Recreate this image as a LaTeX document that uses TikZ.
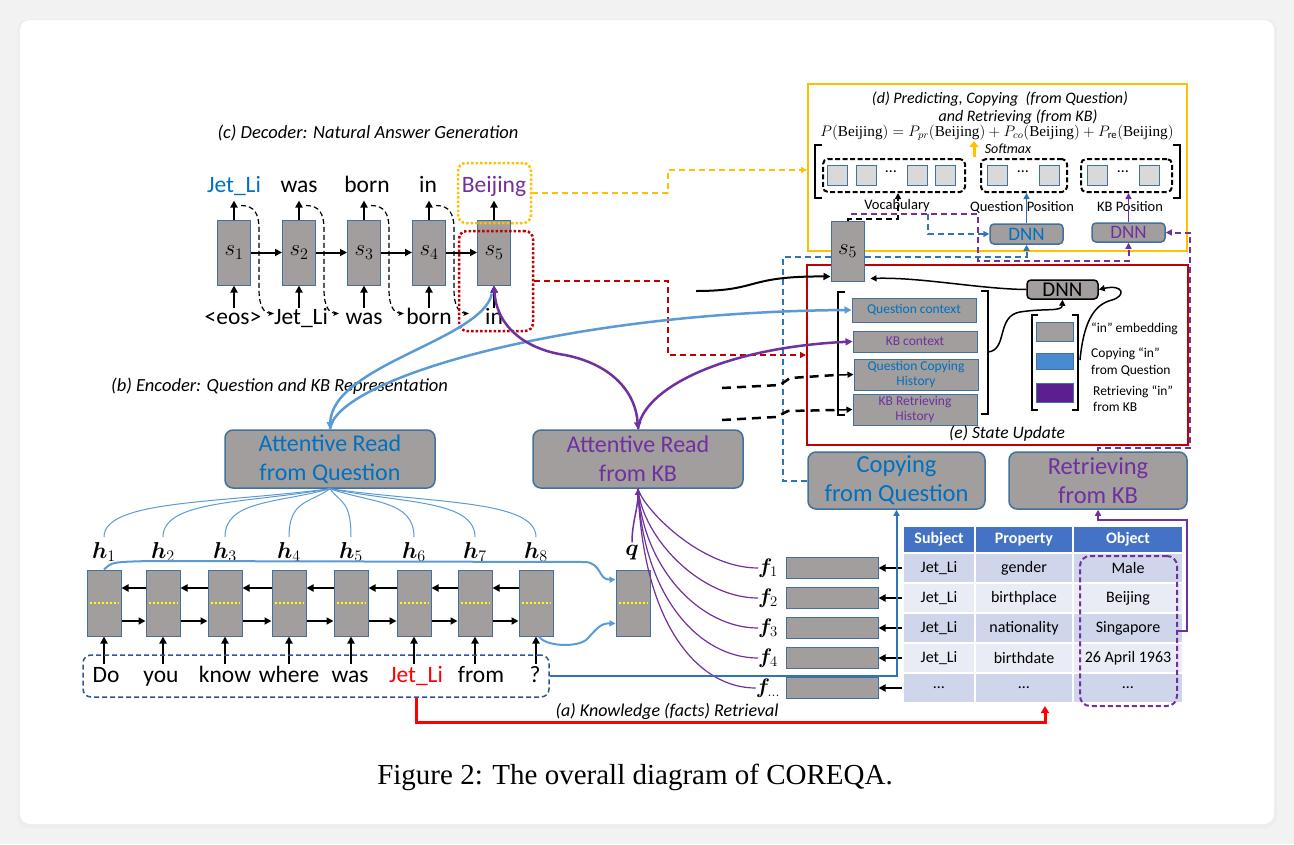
\RequirePackage{fix-cm}
\documentclass[tikz,border=0pt]{standalone}
\usepackage{amsmath}
\usepackage{bm}
\usepackage{fontspec}
\setmainfont{Carlito}
\newfontfamily\serifcap{Liberation Serif}
\usetikzlibrary{arrows.meta,calc}
\definecolor{bgout}{HTML}{F2F2F2}
\definecolor{cellgray}{HTML}{A29E9D}
\definecolor{cellborder}{HTML}{41719C}
\definecolor{qblue}{HTML}{0070C0}
\definecolor{lblue}{HTML}{5B9BD5}
\definecolor{kpurple}{HTML}{7030A0}
\definecolor{dorange}{HTML}{FFC000}
\definecolor{dred}{HTML}{C00000}
\definecolor{thead}{HTML}{4472C4}
\definecolor{tdark}{HTML}{CFD5EA}
\definecolor{tlight}{HTML}{E9EBF5}
\definecolor{sqgray}{HTML}{D9D9D9}
\definecolor{qbox}{HTML}{2F5597}
\definecolor{embblue}{HTML}{4A8BD0}
\definecolor{embpurple}{HTML}{5B1F8F}
\definecolor{dashblue}{HTML}{2E75B6}
\definecolor{dotyellow}{HTML}{FFFF00}
\newcommand{\fsz}[2]{\fontsize{#1}{#2}\selectfont}
\newcommand{\bj}{\text{\serifcap Beijing}}
\tikzset{
  cell/.style={draw=cellborder, fill=cellgray, line width=1pt, inner sep=0pt, minimum width=33pt, minimum height=65pt},
  gbox/.style={draw=cellborder, fill=cellgray, line width=1.5pt, rounded corners=8pt, inner sep=0pt, align=center},
  ebx/.style={draw=cellborder, fill=cellgray, line width=1pt, inner sep=0pt, minimum width=124pt, align=center, font=\fsz{13.5}{15}},
  ar/.style={line width=2pt, -{Triangle[length=7pt,width=7pt]}},
  thinar/.style={line width=1.5pt, -{Triangle[length=6pt,width=6pt]}},
  wd/.style={font=\fsz{23.5}{28}, inner sep=0pt, anchor=base},
  ttl/.style={font=\fsz{18.5}{22}\itshape, inner sep=0pt},
  sq/.style={draw=cellborder, fill=sqgray, line width=1pt, minimum width=20pt, minimum height=20pt, inner sep=0pt},
  dashbox/.style={draw=black, line width=2pt, dash pattern=on 5pt off 2.5pt, rounded corners=5pt, inner sep=0pt},
  bdash/.style={dashblue, line width=2pt, dash pattern=on 6pt off 4pt},
  pdash/.style={kpurple, line width=2pt, dash pattern=on 6pt off 4pt},
  ydash/.style={dorange, line width=2pt, dash pattern=on 6pt off 4pt},
  rdash/.style={dred, line width=2pt, dash pattern=on 6pt off 4pt},
  kdash/.style={black, line width=2.5pt, dash pattern=on 9pt off 6pt},
  tip/.style={-{Triangle[length=6pt,width=6pt]}},
  tc/.style={draw=white, line width=1.5pt, inner sep=0pt, minimum height=30pt, font=\fsz{16}{18}},
  brk/.style={line width=2.5pt},
  dnnbox/.style={draw=cellborder, fill=cellgray, line width=1.5pt, rounded corners=4pt, inner sep=0pt, font=\fsz{19}{21}},
}
\begin{document}
\begin{tikzpicture}[x=1pt,y=-1pt]
\useasboundingbox (0,0) rectangle (1294,844);
\fill[bgout] (0,0) rectangle (1294,844);
\fill[black!7, rounded corners=12pt] (17,19) rectangle (1277,828);
\fill[white, rounded corners=10pt] (20,20) rectangle (1274,824);

% ---------- outer boxes (d) and (e)
\node[draw=dorange, line width=2pt, minimum width=379pt, minimum height=167pt, inner sep=0pt] (dbox) at (997.5,167.5) {};
\node[draw=dred, line width=2pt, minimum width=381pt, minimum height=180pt, inner sep=0pt] (ebox) at (997.5,355) {};

% ---------- decoder
\node[ttl] (ctitle) at (368,133) {(c) Decoder: Natural Answer Generation};
\foreach \i/\x in {1/234,2/299,3/364,4/429,5/494} {
  \node[cell, font=\fsz{23}{27}] (s\i) at (\x,252.5) {$s_{\i}$};
  \draw[ar] (s\i.north) -- ++(0,-19);
  \draw[ar] ($(s\i.south)+(0,22)$) -- (s\i.south);
}
\foreach \i/\j in {1/2,2/3,3/4,4/5} \draw[ar] (s\i.east) -- (s\j.west);
\node[wd, text=qblue] (t1) at (234,192) {Jet\_Li};
\node[wd] (t2) at (299,192) {was};
\node[wd] (t3) at (367,192) {born};
\node[wd] (t4) at (428,192) {in};
\node[wd, text=kpurple] (t5) at (494,192) {Beijing};
\node[wd] (b1) at (233,324) {<eos>};
\node[wd] (b2) at (301,324) {Jet\_Li};
\node[wd] (b3) at (364,324) {was};
\node[wd] (b4) at (429,324) {born};
\node[wd] (b5) at (494,324) {in};
\foreach \i in {1,2,3,4} {
  \draw[line width=1.2pt, dash pattern=on 5pt off 3pt, -{Stealth[length=6pt,width=5pt]}]
    ($(s\i.north)+(7,-14)$) .. controls +(14,0) and +(0,-15) .. ($(s\i.north)+(25,10)$)
    -- ($(s\i.south)+(25,5)$) .. controls +(0,15) and +(-10,0) .. ($(s\i.south)+(40,28)$);
}
\node[draw=dorange, line width=2.5pt, dash pattern=on 2.5pt off 2pt, rounded corners=8pt, minimum width=73pt, minimum height=60pt, inner sep=0pt] (ybox) at (494.5,193) {};
\node[draw=dred, line width=2.5pt, dash pattern=on 2.5pt off 2pt, rounded corners=8pt, minimum width=74pt, minimum height=100pt, inner sep=0pt] (rbox) at (496,281) {};
\draw[ydash, tip] (ybox.east) -| (668,170) -- (dbox.west |- 668,170);
\draw[rdash, tip] (rbox.east) -| (668,355) -- (ebox.west |- 668,355);

% ---------- (d) contents
\node[font=\fsz{16}{19}\itshape] (dt1) at (1000,99) {(d) Predicting, Copying\ \ (from Question)};
\node[font=\fsz{16}{19}\itshape] (dt2) at (1018,117) {and Retrieving (from KB)};
\node[font=\fsz{15.2}{18}, inner sep=0pt] (eq) at (997,133) {$P(\bj) = P_{pr}(\bj) + P_{co}(\bj) + P_{\mathrm{re}}(\bj)$};
\coordinate (smS) at (974,157);
\draw[dorange, line width=3pt, -{Triangle[length=6pt,width=9pt]}] (smS) -- (974,141);
\node[font=\fsz{14}{16}\itshape] (sm) at (1008,149) {Softmax};
\draw[brk] (822,145) -- (815,145) -- (815,198) -- (822,198);
\draw[brk] (1173,145) -- (1180,145) -- (1180,198) -- (1173,198);
\node[dashbox, minimum width=142pt, minimum height=33pt] (vocab) at (894,175.5) {};
\node[dashbox, minimum width=86pt, minimum height=33pt] (qpos) at (1024,175.5) {};
\node[dashbox, minimum width=91pt, minimum height=33pt] (kbpos) at (1126.5,175.5) {};
\foreach \x/\n in {837/1,866/2,917/3,945/4} \node[sq] (vs\n) at (\x,175) {};
\foreach \x/\n in {997.5/1,1049.5/2} \node[sq] (qs\n) at (\x,175) {};
\foreach \x/\n in {1097/1,1149/2} \node[sq] (ks\n) at (\x,175) {};
\node[font=\fsz{16}{18}] (vd) at (891,172) {…};
\node[font=\fsz{16}{18}] (qd) at (1023,172) {…};
\node[font=\fsz{16}{18}] (kd) at (1123,172) {…};
\node[font=\fsz{14.5}{17}] (vl) at (897,206) {Vocabulary};
\node[font=\fsz{14.5}{17}] (qpl) at (1022,207) {Question Position};
\node[font=\fsz{14.5}{17}] (kpl) at (1130,207) {KB Position};
\node[dnnbox, text=qblue, minimum width=73pt, minimum height=20pt] (dnnq) at (1026.5,234) {DNN};
\node[dnnbox, text=kpurple, minimum width=73pt, minimum height=19pt] (dnnk) at (1128.5,232.5) {DNN};
\draw[thinar, dashblue] (dnnq.north) -- (dnnq.north |- qpos.south);
\draw[thinar, kpurple] (dnnk.north) -- (dnnk.north |- kbpos.south);

% dashed connectors around s5 (right)
\coordinate (pS) at (851,214);
\draw[pdash, tip] (pS) -- (978,214) -- (978,261) -| (dnnk.south);
\coordinate (bS) at (928,214);
\draw[bdash, tip] (bS) |- (dnnq.west);
\node[gbox, text=qblue, font=\fsz{24.5}{29}, minimum width=177pt, minimum height=57pt] (copyq) at (896.5,480.5) {Copying\\from Question};
\node[gbox, text=kpurple, font=\fsz{24.5}{29}, minimum width=178pt, minimum height=57pt] (retr) at (1098,480.5) {Retrieving\\from KB};
\draw[bdash, tip] (copyq.west) -| (783,257) -| (dnnq.south);
\draw[pdash, tip] (retr.north) |- (1190,448) -- (1190,232.5) -- (dnnk.east);

% ---------- (e) contents
\node[cell, minimum height=60pt, font=\fsz{23}{27}] (s5r) at (847.5,251) {$s_5$};
\draw[line width=2pt, dash pattern=on 6pt off 4pt, tip] (s5r.north) |- (898,219) -- (vocab.south -| 898,0);
\coordinate (sIn) at (696,291);
\draw[ar] (sIn) .. controls (760,291) and (745,276) .. ($(s5r.south west)+(0,-5)$);
\node[draw=black, fill=cellgray, line width=1.5pt, rounded corners=4pt, inner sep=0pt, minimum width=71pt, minimum height=19pt, font=\fsz{21}{23}] (dnne) at (1062.5,289.5) {DNN};
\draw[line width=1.5pt, tip] (dnne.west) .. controls (980,289) and (920,277) .. ($(s5r.south east)+(6,-3)$);
\draw[brk] (845,292) -- (838,292) -- (838,415) -- (845,415);
\node[ebx, text=qblue, minimum height=24pt] (qctx) at (914,310) {Question context};
\node[ebx, text=kpurple, minimum height=21pt] (kbctx) at (915,341.5) {KB context};
\node[ebx, text=qblue, minimum height=31pt] (qch) at (916,374.5) {Question Copying\\History};
\node[ebx, text=kpurple, minimum height=31pt] (kbrh) at (915,409.5) {KB Retrieving\\History};
\draw[line width=1.5pt, tip] (838,375) -- (qch.west);
\draw[line width=1.5pt, tip] (838,410) -- (kbrh.west);
\coordinate (hq1) at (722,388);
\coordinate (hq2) at (722,420);
\draw[kdash] (hq1) -- (780,385) -- (790,378) -- (836,375);
\draw[kdash] (hq2) -- (776,417) -- (788,411) -- (836,410);
\draw[brk] (981,291) -- (988,291) -- (988,414) -- (981,414);
\draw[line width=1.5pt, tip] (988,352) .. controls (1008,350) and (996,316) .. (1020,312) .. controls (1045,308) and (1062,312) .. (dnne.south);
\draw[brk] (1038,315) -- (1032,315) -- (1032,410) -- (1038,410);
\draw[brk] (1072,315) -- (1078,315) -- (1078,410) -- (1072,410);
\node[draw=cellborder, fill=cellgray, line width=1pt, minimum width=37pt, minimum height=19pt, inner sep=0pt] (eg) at (1054.5,331.5) {};
\node[draw=cellborder, fill=embblue, line width=1pt, minimum width=37pt, minimum height=16pt, inner sep=0pt] (eb) at (1054.5,361) {};
\node[draw=cellborder, fill=embpurple, line width=1pt, minimum width=37pt, minimum height=19pt, inner sep=0pt] (ep) at (1054.5,392.5) {};
\draw[line width=1.5pt, tip] (1080,360) .. controls (1084,318) and (1096,304) .. (1112,300) .. controls (1126,296) and (1124,284) .. (dnne.east);
\node[anchor=west, font=\fsz{13.5}{15}, inner sep=0pt] (tin) at (1091,329) {“in” embedding};
\node[anchor=west, font=\fsz{13.5}{17}, align=left, inner sep=0pt] (tcp) at (1091,362.5) {Copying “in”\\from Question};
\node[anchor=west, font=\fsz{13.5}{16}, align=left, inner sep=0pt] (trt) at (1093,399) {Retrieving “in”\\from KB};
\node[font=\fsz{17.5}{20}\itshape, inner sep=0pt] (etitle) at (1007,434) {(e) State Update};

% ---------- attentive reads
\node[ttl] (btitle) at (279.5,386) {(b) Encoder: Question and KB Representation};
\node[gbox, text=qblue, font=\fsz{24}{29}, minimum width=210pt, minimum height=58pt] (arq) at (330,459) {Attentive Read\\from Question};
\node[gbox, text=kpurple, font=\fsz{24}{29}, minimum width=210pt, minimum height=58pt] (arkb) at (638,459) {Attentive Read\\from KB};
\draw[lblue, line width=2.5pt, -{Triangle[length=7pt,width=7pt]}] ($(s5.south)+(-2,8)$) .. controls (482,340) and (332,365) .. (arq.north);
\draw[lblue, line width=2.5pt, -{Triangle[length=7pt,width=7pt]}] (arq.north) .. controls (335,380) and (560,312) .. (qctx.west);
\draw[kpurple, line width=2.5pt, {Triangle[length=7pt,width=7pt]}-{Triangle[length=7pt,width=7pt]}] (s5.south) .. controls (497,330) and (530,350) .. (565,355) .. controls (615,365) and (636,395) .. (arkb.north);
\draw[kpurple, line width=2.5pt, -{Triangle[length=7pt,width=7pt]}] (arkb.north) .. controls (642,390) and (720,348) .. (kbctx.west);

% ---------- encoder
\foreach \i/\x in {1/104,2/163,3/225,4/289,5/351,6/414,7/475,8/536} {
  \node[cell, minimum width=34pt, minimum height=66pt] (h\i) at (\x,603) {};
  \draw[dotyellow, line width=2pt, dash pattern=on 2pt off 2pt] ($(h\i.west)+(3,0)$) -- ($(h\i.east)+(-3,0)$);
  \node[font=\fsz{23}{27}, inner sep=0pt] (hl\i) at (\x,552) {$\bm{h}_{\i}$};
  \draw[ar] ($(h\i.south)+(0,27)$) -- (h\i.south);
  \draw[lblue, line width=1pt] (arq.south) .. controls ($(arq.south)!0.5!(\x,488)+(0,15)$) and (\x,500) .. ($(hl\i.north)+(0,-5)$);
}
\node[cell, minimum width=34pt, minimum height=66pt] (q) at (633,603) {};
\draw[dotyellow, line width=2pt, dash pattern=on 2pt off 2pt] ($(q.west)+(3,0)$) -- ($(q.east)+(-3,0)$);
\node[font=\fsz{23}{27}, inner sep=0pt] (ql) at (632,553) {$\bm{q}$};
\foreach \i/\j in {1/2,2/3,3/4,4/5,5/6,6/7,7/8} {
  \draw[ar] ($(h\j.west)+(0,-15)$) -- ($(h\i.east)+(0,-15)$);
  \draw[ar] ($(h\i.east)+(0,18)$) -- ($(h\j.west)+(0,18)$);
}
\draw[lblue, line width=2pt, -{Triangle[length=6pt,width=6pt]}] (h1.north) .. controls (112,562) .. (150,561) -- (585,562) .. controls (602,563) and (598,580) .. ($(q.north west)+(0,10)$);
\draw[lblue, line width=2pt, -{Triangle[length=6pt,width=6pt]}] ($(h8.south)+(3,0)$) .. controls (545,646) and (575,648) .. (586,640) .. controls (596,630) and (600,623) .. ($(q.south west)+(0,-13)$);

\node[draw=qbox, line width=1.5pt, dash pattern=on 5pt off 3pt, rounded corners=8pt, minimum width=466pt, minimum height=42pt, inner sep=0pt] (qb) at (316,676) {};
\node[wd] (w1) at (106,682) {Do};
\node[wd] (w2) at (161,682) {you};
\node[wd] (w3) at (225,682) {know};
\node[wd] (w4) at (289,682) {where};
\node[wd] (w5) at (350,682) {was};
\node[wd, text=red] (w6) at (416,682) {Jet\_Li};
\node[wd] (w7) at (481,682) {from};
\node[wd] (w8) at (535,682) {?};

% ---------- facts and table
\node[tc, fill=thead, text=white, font=\fsz{16}{18}\bfseries, minimum width=72pt, minimum height=27pt] (th1) at (939,539.5) {Subject};
\node[tc, fill=thead, text=white, font=\fsz{16}{18}\bfseries, minimum width=98pt, minimum height=27pt] (th2) at (1024,539.5) {Property};
\node[tc, fill=thead, text=white, font=\fsz{16}{18}\bfseries, minimum width=110pt, minimum height=27pt] (th3) at (1128,539.5) {Object};
\foreach \r/\y/\a/\b/\c/\fc in {1/568/Jet\_Li/gender/Male/tdark, 2/598/Jet\_Li/birthplace/Beijing/tlight, 3/628/Jet\_Li/nationality/Singapore/tdark, 4/658/Jet\_Li/birthdate/26 April 1963/tlight, 5/688/…/…/…/tdark} {
  \node[tc, fill=\fc, minimum width=72pt] (ta\r) at (939,\y) {\a};
  \node[tc, fill=\fc, minimum width=98pt] (tb\r) at (1024,\y) {\b};
  \node[tc, fill=\fc, minimum width=110pt] (tcc\r) at (1128,\y) {\c};
  \node[cell, minimum width=92pt, minimum height=21pt] (f\r) at (832,\y) {};
  \draw[ar] (ta\r.west) -- (f\r.east);
}
\foreach \r/\y in {1/568,2/598,3/628,4/658} \node[font=\fsz{21}{24}, inner sep=0pt] (fl\r) at (768,\y) {$\bm{f}_{\r}$};
\node[font=\fsz{21}{24}, inner sep=0pt] (fl5) at (768,688) {$\bm{f}_{\dots}$};
\foreach \r/\y in {1/568,2/598,3/628,4/658,5/688} {
  \pgfmathsetmacro\cy{\y-60}
  \draw[kpurple, line width=1.2pt] (arkb.south) .. controls (643,\cy) and (700,\y) .. (fl\r.west);
}
\draw[kpurple, line width=1.5pt, -{Triangle[length=6pt,width=6pt]}] ($(ql.north)+(0,-3)$) .. controls +(0,-20) and +(0,20) .. (arkb.south);
\node[draw=kpurple, line width=2pt, dash pattern=on 5pt off 3pt, rounded corners=10pt, minimum width=97pt, minimum height=150pt, inner sep=0pt] (objb) at (1128.5,631) {};
\draw[kpurple, line width=2pt, tip] (objb.east) -| (1187,520) -| (retr.south);
\draw[dashblue, line width=2pt, tip] (qb.east) -| (copyq.south);
\draw[red, line width=3pt, -{Triangle[length=7pt,width=8pt]}] (w6.base |- qb.south) -- (416,722) -| (1045,706);
\node[font=\fsz{18}{21}\itshape, inner sep=0pt] (atitle) at (667,711) {(a) Knowledge (facts) Retrieval};

% ---------- caption
\node[font=\serifcap\fsz{29}{33}, inner sep=0pt] (cap) at (635,777) {Figure 2: The overall diagram of COREQA.};
\end{tikzpicture}
\end{document}
